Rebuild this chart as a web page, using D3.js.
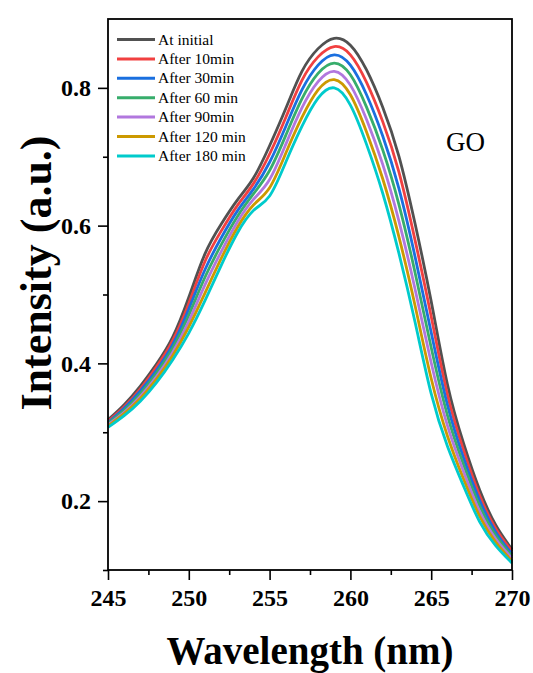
<!DOCTYPE html>
<html>
<head>
<meta charset="utf-8">
<script src="https://cdn.jsdelivr.net/npm/d3@7/dist/d3.min.js"></script>
<style>
body { margin: 0; background: #fff; }
text { font-family: "Liberation Serif", "Times New Roman", serif; }
</style>
</head>
<body>
<div id="viz"></div>
<script>
'use strict';

// wavelength grid (nm)
const wavelengths = [245, 246, 247, 248, 249, 250, 251, 252, 253, 254, 255, 256, 257,
    258, 259, 260, 261, 262, 263, 264, 265, 266, 267, 268, 269, 270];

// intensity, one array per time
const atInitial = [0.318, 0.340, 0.367, 0.399, 0.438, 0.496, 0.559, 0.602, 0.637, 0.669, 0.716, 0.770, 0.824,
    0.857, 0.872, 0.862, 0.826, 0.772, 0.701, 0.603, 0.490, 0.370, 0.284, 0.216, 0.165, 0.130];
const after10 = [0.316, 0.337, 0.363, 0.395, 0.433, 0.487, 0.548, 0.592, 0.629, 0.661, 0.704, 0.757, 0.811,
    0.845, 0.860, 0.848, 0.808, 0.751, 0.678, 0.579, 0.468, 0.355, 0.274, 0.208, 0.160, 0.127];
const after30 = [0.314, 0.335, 0.360, 0.390, 0.427, 0.479, 0.536, 0.582, 0.621, 0.653, 0.692, 0.744, 0.797,
    0.833, 0.848, 0.833, 0.790, 0.730, 0.654, 0.555, 0.445, 0.340, 0.263, 0.201, 0.155, 0.123];
const after60 = [0.313, 0.332, 0.356, 0.386, 0.422, 0.470, 0.525, 0.572, 0.613, 0.646, 0.680, 0.731, 0.784,
    0.821, 0.836, 0.819, 0.772, 0.710, 0.631, 0.532, 0.423, 0.325, 0.253, 0.193, 0.150, 0.120];
const after90 = [0.311, 0.329, 0.352, 0.381, 0.416, 0.461, 0.514, 0.562, 0.605, 0.638, 0.667, 0.718, 0.771,
    0.809, 0.824, 0.804, 0.754, 0.689, 0.607, 0.508, 0.401, 0.310, 0.243, 0.185, 0.145, 0.117];
const after120 = [0.309, 0.327, 0.349, 0.377, 0.411, 0.453, 0.502, 0.552, 0.597, 0.630, 0.655, 0.705, 0.757,
    0.797, 0.812, 0.790, 0.736, 0.668, 0.584, 0.484, 0.378, 0.295, 0.232, 0.178, 0.140, 0.113];
const after180 = [0.307, 0.324, 0.345, 0.372, 0.405, 0.444, 0.491, 0.542, 0.589, 0.622, 0.643, 0.692, 0.744,
    0.785, 0.800, 0.775, 0.718, 0.647, 0.560, 0.460, 0.356, 0.280, 0.222, 0.170, 0.135, 0.110];

const seriesNames = ["At initial", "After 10min", "After 30min", "After 60 min",
    "After 90min", "After 120 min", "After 180 min"];
const seriesValues = [atInitial, after10, after30, after60, after90, after120, after180];
const seriesColors = ["#515151", "#F14040", "#1A6FDF", "#37AD6B", "#B177DE", "#CC9900", "#00CBCC"];

const xTicks = [245, 250, 255, 260, 265, 270];
const xMinorTicks = [247.5, 252.5, 257.5, 262.5, 267.5];
const yTicks = [0.2, 0.4, 0.6, 0.8];
const yMinorTicks = [0.1, 0.3, 0.5, 0.7];

const width = 533;
const height = 673;
const margin = {top: 19, right: 21, bottom: 103, left: 108};

const svg = d3.select("#viz")
    .append("svg")
    .attr("width", width)
    .attr("height", height);

const x = d3.scaleLinear()
    .domain([245, 270])
    .range([margin.left, width - margin.right]);

const y = d3.scaleLinear()
    .domain([0.1, 0.9])
    .range([height - margin.bottom, margin.top]);

// curves
const line = d3.line()
    .x((d, i) => x(wavelengths[i]))
    .y(d => y(d))
    .curve(d3.curveNatural);

svg.append("g")
    .selectAll("path")
    .data(seriesValues)
    .enter()
    .append("path")
    .attr("fill", "none")
    .attr("stroke", (d, i) => seriesColors[i])
    .attr("stroke-width", 2.8)
    .attr("d", line);

// axes
svg.append("g")
    .attr("transform", `translate(0,${height - margin.bottom})`)
    .call(d3.axisBottom(x).tickValues(xTicks).tickSize(10).tickPadding(9).tickFormat(d3.format("d")));
svg.append("g")
    .attr("transform", `translate(0,${height - margin.bottom})`)
    .call(d3.axisBottom(x).tickValues(xMinorTicks).tickSize(5).tickFormat(""));

svg.append("g")
    .attr("transform", `translate(${margin.left},0)`)
    .call(d3.axisLeft(y).tickValues(yTicks).tickSize(10).tickPadding(7).tickFormat(d3.format(".1f")));
svg.append("g")
    .attr("transform", `translate(${margin.left},0)`)
    .call(d3.axisLeft(y).tickValues(yMinorTicks).tickSize(5).tickFormat(""));

svg.selectAll(".domain").remove();
svg.selectAll(".tick line").attr("stroke", "#000").attr("stroke-width", 1.6);
svg.selectAll(".tick text")
    .attr("fill", "#000")
    .style("font-size", "24px")
    .style("font-weight", "bold")
    .style("font-family", '"Liberation Serif", "Times New Roman", serif');

// frame
svg.append("rect")
    .attr("x", margin.left)
    .attr("y", margin.top)
    .attr("width", width - margin.left - margin.right)
    .attr("height", height - margin.top - margin.bottom)
    .attr("fill", "none")
    .attr("stroke", "#000")
    .attr("stroke-width", 1.8);

// axis titles
svg.append("text")
    .attr("x", (margin.left + width - margin.right) / 2)
    .attr("y", 664)
    .attr("text-anchor", "middle")
    .style("font-size", "39px")
    .style("font-weight", "bold")
    .text("Wavelength (nm)");

svg.append("text")
    .attr("transform", "translate(51,273) rotate(-90)")
    .attr("text-anchor", "middle")
    .style("font-size", "44px")
    .style("font-weight", "bold")
    .text("Intensity (a.u.)");

svg.append("text")
    .attr("x", 446)
    .attr("y", 151)
    .style("font-size", "27px")
    .text("GO");

// legend
const legend = svg.append("g")
    .selectAll("g")
    .data(seriesNames)
    .enter()
    .append("g")
    .attr("transform", (d, i) => `translate(117,${39.5 + i * 19.4})`);

legend.append("line")
    .attr("x1", 0)
    .attr("x2", 38)
    .attr("stroke", (d, i) => seriesColors[i])
    .attr("stroke-width", 3);

legend.append("text")
    .attr("x", 41)
    .attr("dy", "0.33em")
    .style("font-size", "15.5px")
    .text(d => d);
</script>
</body>
</html>
